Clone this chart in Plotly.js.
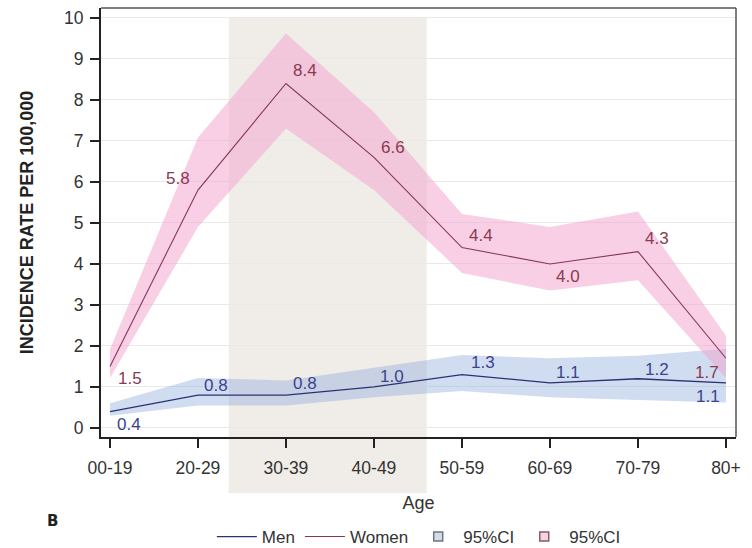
<!DOCTYPE html>
<html>
<head>
<meta charset="utf-8">
<script src="https://cdn.plot.ly/plotly-3.0.1.min.js"></script>
<style>
  html, body { margin: 0; padding: 0; background: #fff; }
  #chart { width: 752px; height: 548px; }
</style>
</head>
<body>
<div id="chart"></div>
<script>
// Age groups
const ageGroups = ['00-19', '20-29', '30-39', '40-49', '50-59', '60-69', '70-79', '80+'];

// Incidence rate per 100,000 — men
const menRate  = [0.4, 0.8, 0.8, 1.0, 1.3, 1.1, 1.2, 1.1];
const menLow   = [0.3, 0.55, 0.55, 0.75, 0.9, 0.75, 0.68, 0.62];
const menHigh  = [0.6, 1.22, 1.16, 1.47, 1.78, 1.7, 1.76, 1.93];

// Incidence rate per 100,000 — women
const womenRate = [1.5, 5.8, 8.4, 6.6, 4.4, 4.0, 4.3, 1.7];
const womenLow  = [1.22, 4.9, 7.3, 5.8, 3.78, 3.35, 3.6, 1.22];
const womenHigh = [1.92, 7.08, 9.62, 7.7, 5.22, 4.9, 5.28, 2.25];

// Highlighted age span (in category index units)
const highlightSpan = [1.35, 3.6];

const FONT = 'Liberation Sans, Arial, sans-serif';
const MEN_LINE = '#2b3170';
const WOMEN_LINE = '#84375a';
const MEN_TEXT = '#3a4390';
const WOMEN_TEXT = '#8b3a50';
const MEN_BAND = 'rgba(150,178,222,0.45)';
const WOMEN_BAND = 'rgba(244,160,205,0.5)';

const traces = [
  // men confidence band
  { x: ageGroups, y: menHigh, type: 'scatter', mode: 'lines',
    line: { width: 0, color: 'rgba(0,0,0,0)' }, showlegend: false, hoverinfo: 'skip' },
  { x: ageGroups, y: menLow, type: 'scatter', mode: 'lines', showlegend: false,
    fill: 'tonexty', fillcolor: MEN_BAND, line: { width: 0, color: 'rgba(0,0,0,0)' } },
  // women confidence band
  { x: ageGroups, y: womenHigh, type: 'scatter', mode: 'lines',
    line: { width: 0, color: 'rgba(0,0,0,0)' }, showlegend: false, hoverinfo: 'skip' },
  { x: ageGroups, y: womenLow, type: 'scatter', mode: 'lines', showlegend: false,
    fill: 'tonexty', fillcolor: WOMEN_BAND, line: { width: 0, color: 'rgba(0,0,0,0)' } },
  // rate lines
  { x: ageGroups, y: menRate, type: 'scatter', mode: 'lines', name: 'Men',
    line: { color: MEN_LINE, width: 1.3 } },
  { x: ageGroups, y: womenRate, type: 'scatter', mode: 'lines', name: 'Women',
    line: { color: WOMEN_LINE, width: 1.1 } },
  // legend keys for the two confidence bands
  { x: [null], y: [null], type: 'scatter', mode: 'markers', name: '95%CI',
    marker: { symbol: 'square', size: 9, color: '#d6dcea', line: { color: '#6e7480', width: 1.5 } } },
  { x: [null], y: [null], type: 'scatter', mode: 'markers', name: '95%CI',
    marker: { symbol: 'square', size: 9, color: '#f6d3e2', line: { color: '#8a5a6e', width: 1.5 } } }
];

// Label offsets (pixels) for each point's value label
const womenShiftX = [20, -20, 19, 19, 19, 18, 19, -19];
const womenShiftY = [-12, 12, 13, 10, 12, -13, 13, -14];
const menShiftX   = [19, 18, 19, 18, 21, 18, 19, -18];
const menShiftY   = [-13, 10, 12, 10, 12, 10, 9, -14];

const PLOT = { l: 101, r: 16, t: 8, b: 111 };
const plotW = 752 - PLOT.l - PLOT.r;
const plotH = 548 - PLOT.t - PLOT.b;
// convert a pixel position on the page into paper coordinates
const px = x => (x - PLOT.l) / plotW;
const py = y => (548 - PLOT.b - y) / plotH;

const annotations = [];
ageGroups.forEach((g, i) => {
  annotations.push({
    x: g, y: womenRate[i], xref: 'x', yref: 'y', text: womenRate[i].toFixed(1),
    showarrow: false, xshift: womenShiftX[i], yshift: womenShiftY[i],
    font: { family: FONT, size: 17, color: WOMEN_TEXT }
  });
  annotations.push({
    x: g, y: menRate[i], xref: 'x', yref: 'y', text: menRate[i].toFixed(1),
    showarrow: false, xshift: menShiftX[i], yshift: menShiftY[i],
    font: { family: FONT, size: 17, color: MEN_TEXT }
  });
});
// panel letter
annotations.push({
  x: px(52), y: py(521), xref: 'paper', yref: 'paper', xanchor: 'center', yanchor: 'middle',
  text: '<b>B</b>', showarrow: false, font: { family: 'DejaVu Sans, sans-serif', size: 15, color: '#222' }
});

const layout = {
  width: 752, height: 548,
  margin: { l: PLOT.l, r: PLOT.r, t: PLOT.t, b: PLOT.b },
  paper_bgcolor: '#ffffff',
  plot_bgcolor: 'rgba(0,0,0,0)',
  font: { family: FONT, size: 17, color: '#333' },
  showlegend: true,
  legend: {
    orientation: 'h', traceorder: 'normal',
    xref: 'container', yref: 'container',
    x: 0.557, xanchor: 'center', y: 11 / 548, yanchor: 'middle',
    font: { family: FONT, size: 17, color: '#333' }, bgcolor: 'rgba(0,0,0,0)',
    tracegroupgap: 0, itemwidth: 40
  },
  xaxis: {
    type: 'category', range: [-0.102, 7.114],
    showline: true, linecolor: '#222', linewidth: 2, mirror: false,
    ticks: 'outside', ticklen: 9, tickwidth: 1.5, tickcolor: '#222',
    ticklabelstandoff: 5,
    showgrid: false, zeroline: false, automargin: false,
    tickfont: { family: FONT, size: 17.5, color: '#333' },
    title: { text: 'Age', font: { family: FONT, size: 18, color: '#333' }, standoff: 19 }
  },
  yaxis: {
    range: [-0.22, 10.24], dtick: 1, tick0: 0,
    showline: true, linecolor: '#222', linewidth: 2,
    ticks: 'outside', ticklen: 9, tickwidth: 1.5, tickcolor: '#222',
    ticklabelstandoff: 3,
    showgrid: true, gridcolor: '#e9e9e9', gridwidth: 1, zeroline: false, automargin: false,
    tickfont: { family: FONT, size: 17.5, color: '#333' },
    title: { text: '<b>INCIDENCE RATE PER 100,000</b>', font: { family: FONT, size: 18, color: '#222' }, standoff: 26 }
  },
  shapes: [
    { type: 'rect', layer: 'below', xref: 'x', yref: 'paper',
      x0: highlightSpan[0], x1: highlightSpan[1], y0: py(493), y1: py(18),
      fillcolor: '#f0ece8', line: { width: 0 } },
    // top and right frame of the plot area
    { type: 'line', xref: 'paper', yref: 'paper', x0: 0, x1: 1, y0: 1, y1: 1,
      line: { color: '#555', width: 1.5 } },
    { type: 'line', xref: 'paper', yref: 'paper', x0: 1, x1: 1, y0: 0, y1: 1,
      line: { color: '#555', width: 1.5 } }
  ],
  annotations: annotations
};

Plotly.newPlot('chart', traces, layout, { displayModeBar: false, staticPlot: true });
</script>
</body>
</html>
